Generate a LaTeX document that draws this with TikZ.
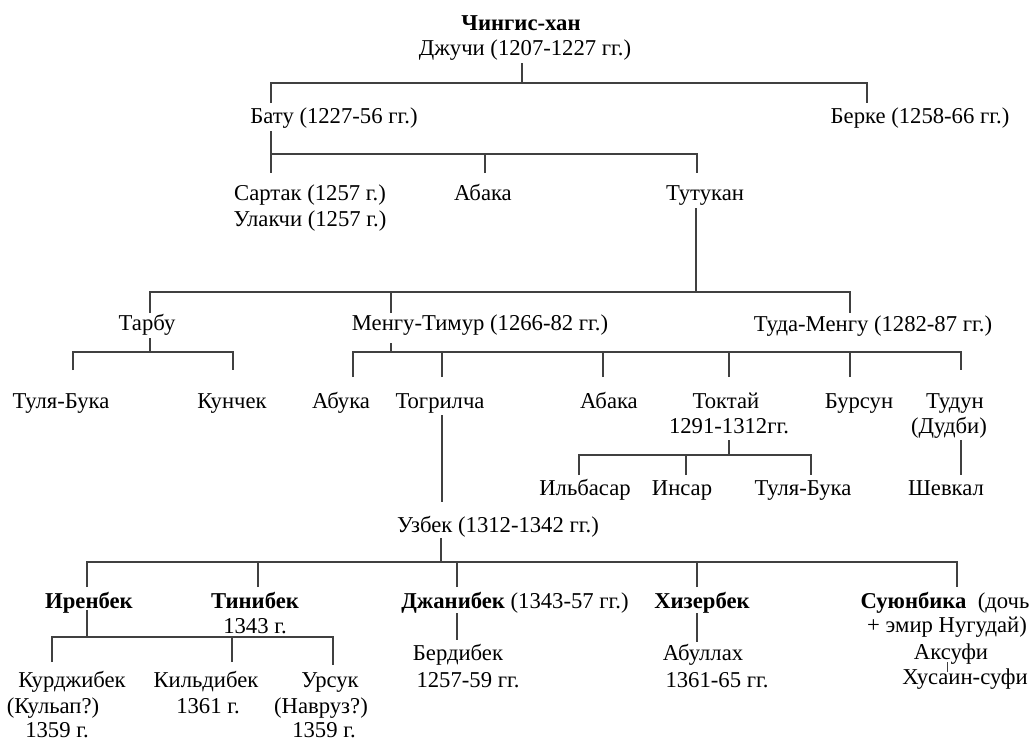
\documentclass[tikz,border=0pt]{standalone}
\usepackage{fontspec}
\setmainfont{Liberation Serif}
\begin{document}
\begin{tikzpicture}[x=0.75pt,y=-0.75pt,
  t/.style={anchor=base,inner sep=0pt,font=\fontsize{17}{19}\selectfont},
  tb/.style={t,font=\fontsize{17}{19}\selectfont\bfseries},
  edge/.style={line width=1pt,draw=black!75}]
\useasboundingbox (0,0) rectangle (1032,740);
% ---- text nodes
\node[tb] (chingis) at (521,30) {Чингис-хан};
\node[t] (dzhuchi) at (525,55) {Джучи (1207-1227 гг.)};
\node[t] (batu) at (334,123) {Бату (1227-56 гг.)};
\node[t] (berke) at (920,123) {Берке (1258-66 гг.)};
\node[t] (sartak) at (310,200) {Сартак (1257 г.)};
\node[t] (ulakchi) at (310,226) {Улакчи (1257 г.)};
\node[t] (abaka1) at (483,200) {Абака};
\node[t] (tutukan) at (705,200) {Тутукан};
\node[t] (tarbu) at (147,330) {Тарбу};
\node[t] (mengu) at (480,330) {Менгу-Тимур (1266-82 гг.)};
\node[t] (tuda) at (873,331) {Туда-Менгу (1282-87 гг.)};
\node[t] (tulya1) at (61,408) {Туля-Бука};
\node[t] (kunchek) at (232,408) {Кунчек};
\node[t] (abuka) at (341,408) {Абука};
\node[t] (togrilcha) at (440,408) {Тогрилча};
\node[t] (abaka2) at (609,408) {Абака};
\node[t] (toktai) at (726,408) {Токтай};
\node[t] (toktaib) at (729,433) {1291-1312гг.};
\node[t] (bursun) at (859,408) {Бурсун};
\node[t] (tudun) at (955,408) {Тудун};
\node[t] (tudunb) at (949,433) {(Дудби)};
\node[t] (ilbasar) at (585,495) {Ильбасар};
\node[t] (insar) at (682,495) {Инсар};
\node[t] (tulya2) at (803,495) {Туля-Бука};
\node[t] (shevkal) at (946,495) {Шевкал};
\node[t] (uzbek) at (498,532) {Узбек (1312-1342 гг.)};
\node[tb] (irenbek) at (89,608) {Иренбек};
\node[tb] (tinibek) at (255,608) {Тинибек};
\node[t] (tinibekb) at (255,633) {1343 г.};
\node[t] (dzhanibek) at (515,608) {\textbf{Джанибек} (1343-57 гг.)};
\node[tb] (hizerbek) at (702,608) {Хизербек};
\node[t] (suyun) at (945,608) {\textbf{Суюнбика}\ \ (дочь};
\node[t] (suyunb) at (947,632) {+ эмир Нугудай)};
\node[t] (kurdzh) at (72,687) {Курджибек};
\node[t] (kurdzhb) at (53,713) {(Кульап?)};
\node[t] (kurdzhc) at (57,737) {1359 г.};
\node[t] (kild) at (206,687) {Кильдибек};
\node[t] (kildb) at (208,713) {1361 г.};
\node[t] (ursuk) at (330,687) {Урсук};
\node[t] (ursukb) at (321,713) {(Навруз?)};
\node[t] (ursukc) at (324,737) {1359 г.};
\node[t] (berdibek) at (458,660) {Бердибек};
\node[t] (berdibekb) at (468,687) {1257-59 гг.};
\node[t] (abullah) at (703,660) {Абуллах};
\node[t] (abullahb) at (717,687) {1361-65 гг.};
\node[t] (aksufi) at (951,659) {Аксуфи};
\node[t] (husain) at (965,684) {Хусаин-суфи};
% ---- connector coordinates
\coordinate (dz-s) at (522,63);
\coordinate (bus1) at (522,83);
\coordinate (batu-n) at (271,103);
\coordinate (berke-n) at (867,103);
\coordinate (batu-s) at (271,131);
\coordinate (bus2) at (271,154);
\coordinate (sartak-n) at (271,173);
\coordinate (abaka1-n) at (485,173);
\coordinate (tutukan-n) at (697,173);
\coordinate (tutukan-s) at (696,208);
\coordinate (bus3) at (696,292);
\coordinate (tarbu-n) at (150,313);
\coordinate (mengu-n) at (391,313);
\coordinate (tuda-n) at (850,313);
\coordinate (tarbu-s) at (150,338);
\coordinate (bus4) at (150,352);
\coordinate (tulya1-n) at (73,370);
\coordinate (kunchek-n) at (233,370);
\coordinate (mengu-s) at (391,343);
\coordinate (bus5) at (391,352);
\coordinate (abuka-n) at (353,377);
\coordinate (togr-n) at (442,377);
\coordinate (abaka2-n) at (603,377);
\coordinate (toktai-n) at (729,377);
\coordinate (bursun-n) at (850,377);
\coordinate (tudun-n) at (961,370);
\coordinate (togr-s) at (442,415);
\coordinate (uzbek-n) at (442,502);
\coordinate (toktai-s) at (729,440);
\coordinate (bus6) at (729,455);
\coordinate (ilbasar-n) at (579,475);
\coordinate (insar-n) at (686,475);
\coordinate (tulya2-n) at (811,475);
\coordinate (tudun-s) at (961,440);
\coordinate (shevkal-n) at (961,475);
\coordinate (uzbek-s) at (441,538);
\coordinate (bus7) at (441,562);
\coordinate (irenbek-n) at (87,587);
\coordinate (tinibek-n) at (258,587);
\coordinate (dzhanibek-n) at (457,587);
\coordinate (hizerbek-n) at (697,587);
\coordinate (suyun-n) at (957,587);
\coordinate (irenbek-s) at (87,610);
\coordinate (bus8) at (87,637);
\coordinate (kurdzh-n) at (52,662);
\coordinate (kild-n) at (232,662);
\coordinate (ursuk-n) at (333,665);
\coordinate (dzhanibek-s) at (457,613);
\coordinate (berdibek-n) at (457,640);
\coordinate (hizerbek-s) at (697,613);
\coordinate (abullah-n) at (697,642);
\coordinate (aksufi-s) at (947,662);
\coordinate (husain-n) at (947,672);
% ---- connectors
\draw[edge] (dz-s) -- (bus1);
\draw[edge] (batu-n) |- (bus1) -| (berke-n);
\draw[edge] (batu-s) -- (sartak-n);
\draw[edge] (bus2) -| (tutukan-n);
\draw[edge] (abaka1-n) -- (abaka1-n |- bus2);
\draw[edge] (tutukan-s) -- (bus3);
\draw[edge] (tarbu-n) |- (bus3) -| (tuda-n);
\draw[edge] (mengu-n) -- (mengu-n |- bus3);
\draw[edge] (tarbu-s) -- (bus4);
\draw[edge] (tulya1-n) |- (bus4) -| (kunchek-n);
\draw[edge] (mengu-s) -- (bus5);
\draw[edge] (abuka-n) |- (bus5) -| (tudun-n);
\foreach \n in {togr-n,abaka2-n,toktai-n,bursun-n}
  \draw[edge] (\n) -- (\n |- bus5);
\draw[edge] (togr-s) -- (uzbek-n);
\draw[edge] (toktai-s) -- (bus6);
\draw[edge] (ilbasar-n) |- (bus6) -| (tulya2-n);
\draw[edge] (insar-n) -- (insar-n |- bus6);
\draw[edge] (tudun-s) -- (shevkal-n);
\draw[edge] (uzbek-s) -- (bus7);
\draw[edge] (irenbek-n) |- (bus7) -| (suyun-n);
\foreach \n in {tinibek-n,dzhanibek-n,hizerbek-n}
  \draw[edge] (\n) -- (\n |- bus7);
\draw[edge] (irenbek-s) -- (bus8);
\draw[edge] (kurdzh-n) |- (bus8) -| (ursuk-n);
\draw[edge] (kild-n) -- (kild-n |- bus8);
\draw[edge] (dzhanibek-s) -- (berdibek-n);
\draw[edge] (hizerbek-s) -- (abullah-n);
\draw[edge,line width=0.7pt] (aksufi-s) -- (husain-n);
\end{tikzpicture}
\end{document}
